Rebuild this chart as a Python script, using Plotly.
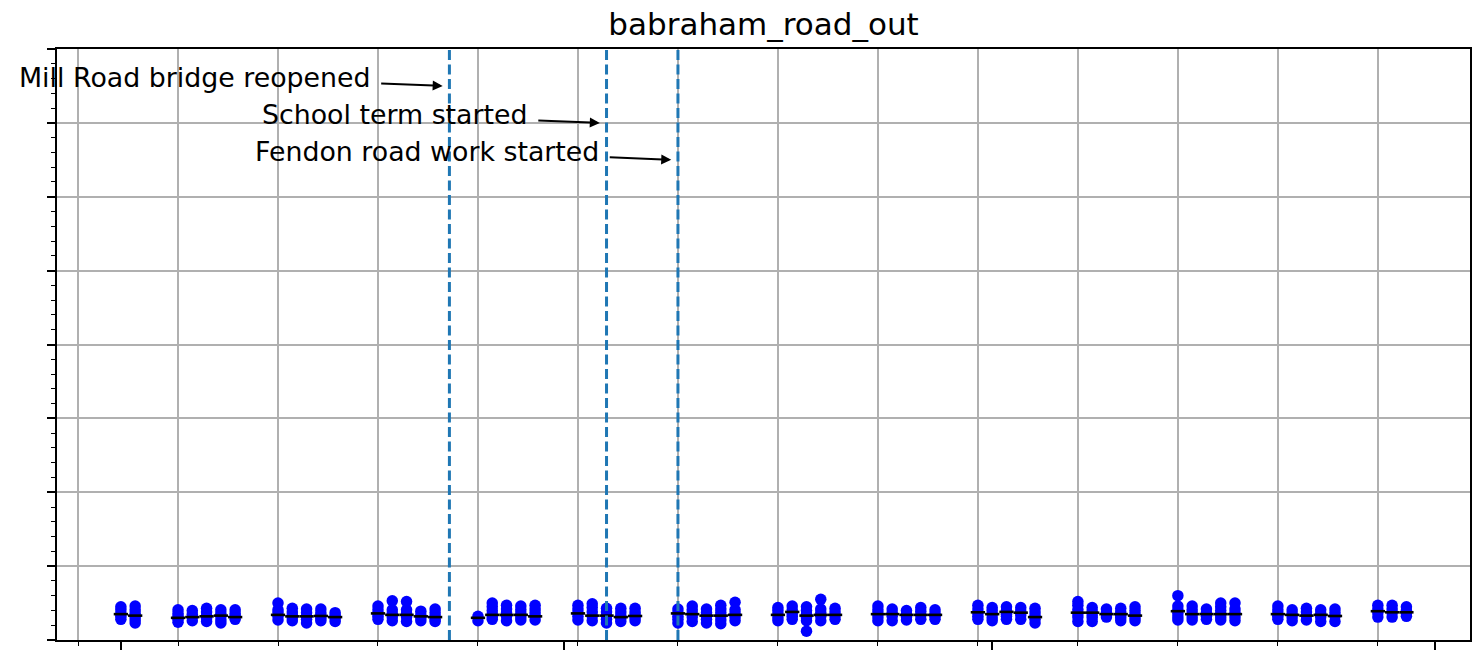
import plotly.graph_objects as go
import pandas as pd

# ---- data (journey times, seconds) ----
dates = [
    "2019-08-01", "2019-08-02",
    "2019-08-05", "2019-08-06", "2019-08-07", "2019-08-08", "2019-08-09",
    "2019-08-12", "2019-08-13", "2019-08-14", "2019-08-15", "2019-08-16",
    "2019-08-19", "2019-08-20", "2019-08-21", "2019-08-22", "2019-08-23",
    "2019-08-26", "2019-08-27", "2019-08-28", "2019-08-29", "2019-08-30",
    "2019-09-02", "2019-09-03", "2019-09-04", "2019-09-05", "2019-09-06",
    "2019-09-09", "2019-09-10", "2019-09-11", "2019-09-12", "2019-09-13",
    "2019-09-16", "2019-09-17", "2019-09-18", "2019-09-19", "2019-09-20",
    "2019-09-23", "2019-09-24", "2019-09-25", "2019-09-26", "2019-09-27",
    "2019-09-30", "2019-10-01", "2019-10-02", "2019-10-03", "2019-10-04",
    "2019-10-07", "2019-10-08", "2019-10-09", "2019-10-10", "2019-10-11",
    "2019-10-14", "2019-10-15", "2019-10-16", "2019-10-17", "2019-10-18",
    "2019-10-21", "2019-10-22", "2019-10-23", "2019-10-24", "2019-10-25",
    "2019-10-28", "2019-10-29", "2019-10-30",
]

readings = [
    [45, 41, 36, 32, 28], [46, 41, 36, 31, 27, 23],
    [41, 36, 32, 28, 24], [40, 35, 31, 26], [43, 38, 33, 29, 25], [41, 36, 32, 27, 23], [41, 36, 32, 28],
    [50, 41, 37, 32, 27], [43, 38, 34, 30, 26], [42, 37, 32, 28, 23], [42, 37, 33, 29, 26], [37, 33, 29, 25],
    [46, 41, 36, 32, 28], [53, 41, 36, 31, 26], [52, 41, 36, 31, 25], [39, 34, 30, 26], [42, 37, 32, 28, 25],
    [32, 26], [50, 45, 40, 35, 31, 28], [47, 42, 37, 32, 26], [46, 41, 36, 31, 27], [47, 42, 37, 32, 27],
    [47, 42, 37, 32, 27], [49, 44, 38, 32, 26], [43, 38, 33, 28, 23], [43, 38, 33, 29, 25], [43, 38, 34, 30, 26],
    [42, 37, 32, 28, 23], [46, 41, 36, 31, 25], [42, 37, 32, 28, 23], [47, 42, 37, 32, 27, 22], [51, 41, 36, 31, 26],
    [44, 40, 35, 30, 26], [46, 41, 36, 32, 28], [45, 40, 35, 30, 26, 12], [55, 42, 37, 32, 26], [43, 38, 33, 28],
    [46, 41, 36, 31, 26], [42, 37, 32, 26], [40, 35, 31, 27], [44, 39, 34, 28], [41, 36, 32, 28],
    [47, 42, 37, 32, 28], [44, 40, 35, 30, 26], [45, 40, 35, 32, 28], [44, 39, 34, 28], [43, 38, 33, 28, 23],
    [52, 47, 41, 36, 31, 25], [44, 39, 34, 30, 25], [42, 37, 31], [43, 38, 33, 30, 26], [45, 40, 35, 30, 26],
    [60, 46, 41, 36, 31, 27], [46, 41, 36, 31, 27], [42, 37, 32, 28], [50, 45, 40, 35, 31, 27], [50, 42, 37, 31, 26],
    [46, 41, 36, 32, 28], [41, 36, 31, 26], [43, 38, 33, 27], [41, 36, 31, 25], [42, 37, 32, 25],
    [47, 42, 37, 31], [47, 42, 37, 31], [45, 40, 36, 32],
]

medians = [
    35, 33,
    30, 31, 32, 33, 31,
    34, 32, 32, 32.5, 31,
    36, 34, 34, 32, 31,
    30, 34, 34, 34, 32,
    36, 33, 33, 31, 32.5,
    36, 35, 33, 33, 34,
    34, 38, 33, 34, 34,
    35, 35, 34, 34, 34,
    37.5, 35, 38, 37, 31,
    37, 37, 35, 35, 33,
    39, 35, 35, 35, 35,
    35, 34, 33, 34, 32.5,
    39, 37.5, 37.5,
]

event_dates = ["2019-08-24", "2019-09-04", "2019-09-09"]
event_labels = ["Mill Road bridge reopened", "School term started", "Fendon road work started"]
event_y = [750, 700, 650]

# ---- build traces ----
dot_x, dot_y = [], []
for d, vals in zip(dates, readings):
    for v in vals:
        dot_x.append(pd.Timestamp(d))
        dot_y.append(v)

med_x, med_y = [], []
half = pd.Timedelta(hours=12)
for d, m in zip(dates, medians):
    t = pd.Timestamp(d)
    med_x += [t - half, t + half, None]
    med_y += [m, m, None]

fig = go.Figure()
fig.add_trace(go.Scatter(
    x=dot_x, y=dot_y, mode="markers",
    marker=dict(color="#0000ff", size=11.5, line=dict(width=0)),
    showlegend=False, hoverinfo="skip",
))
fig.add_trace(go.Scatter(
    x=med_x, y=med_y, mode="lines",
    line=dict(color="black", width=2.6),
    showlegend=False, hoverinfo="skip",
))

font_family = "DejaVu Sans"
for d, lab, yv in zip(event_dates, event_labels, event_y):
    t = pd.Timestamp(d)
    fig.add_shape(
        type="line", xref="x", yref="paper", x0=t, x1=t, y0=0, y1=1,
        line=dict(color="#1f77b4", width=3, dash="10px,4.5px"), layer="above",
    )
    fig.add_annotation(
        x=t - pd.Timedelta(days=5.38), y=yv + 11, xref="x", yref="y",
        text=lab, showarrow=False, xanchor="right", yanchor="middle",
        font=dict(family=font_family, size=26.8, color="black"),
    )
    fig.add_annotation(
        x=t - pd.Timedelta(hours=11.3), y=yv, xref="x", yref="y",
        text="", showarrow=True, axref="pixel", ayref="pixel", ax=-63, ay=-2.5,
        arrowhead=2, arrowsize=1, arrowwidth=2, arrowcolor="black", standoff=0,
    )

fig.update_layout(
    width=1476, height=662,
    margin=dict(l=57, r=4, t=49, b=22),
    paper_bgcolor="white", plot_bgcolor="white",
    title=dict(text="babraham_road_out", x=0.5, xref="paper", xanchor="center",
               y=1 - 24 / 662, yref="container", yanchor="middle",
               font=dict(family=font_family, size=31, color="black")),
    showlegend=False,
)

fig.update_xaxes(
    type="date",
    range=["2019-07-27 12:40", "2019-11-03 10:50"],
    tick0="2019-08-01", dtick="M1",
    ticks="outside", ticklen=8, tickwidth=1.6, tickcolor="black",
    showticklabels=False, showgrid=False, zeroline=False,
    showline=True, linecolor="black", linewidth=1.6, mirror=True,
    minor=dict(tick0="2019-07-29", dtick=7 * 86400000, ticks="outside", ticklen=4,
               tickwidth=1.3, tickcolor="black", showgrid=True,
               gridcolor="#b0b0b0", gridwidth=1.5),
)
fig.update_yaxes(
    range=[0, 800], tick0=0, dtick=100,
    ticks="outside", ticklen=8, tickwidth=1.6, tickcolor="black",
    showticklabels=False, showgrid=True, gridcolor="#b0b0b0", gridwidth=1.5,
    zeroline=False,
    showline=True, linecolor="black", linewidth=1.6, mirror=True,
    minor=dict(dtick=20, ticks="outside", ticklen=4, tickwidth=1.3,
               tickcolor="black", showgrid=False),
)

fig.write_html("out.html",
               config={"displayModeBar": False},
               post_script="document.body.style.margin='0';document.body.style.overflow='hidden';")
